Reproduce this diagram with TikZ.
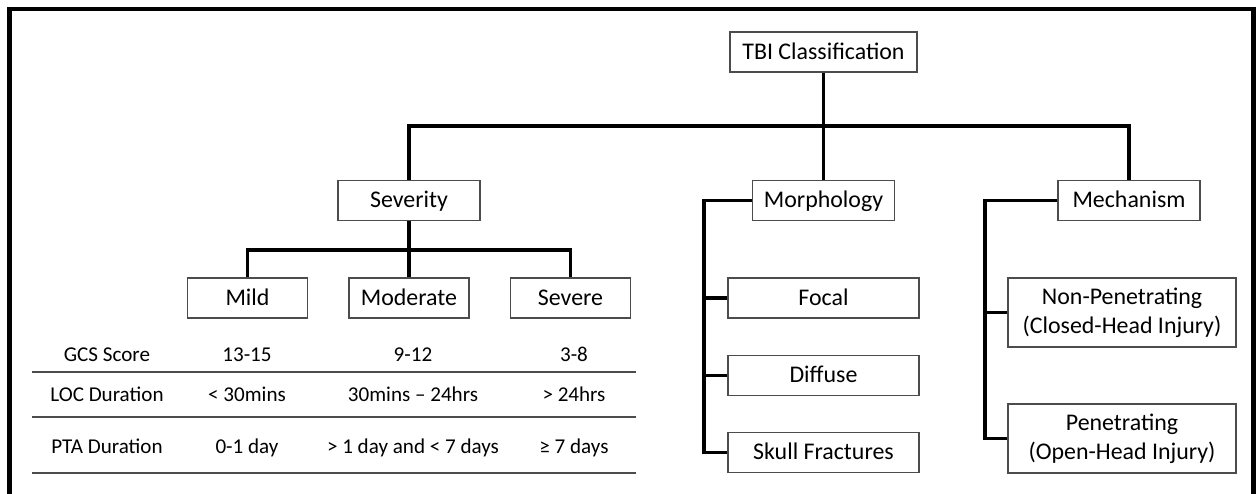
\documentclass[tikz,border=0pt]{standalone}
\usepackage{fontspec}
\setmainfont{Carlito}
\usepackage{tikz}
\usetikzlibrary{positioning,calc}

\begin{document}
\begin{tikzpicture}[
    font=\fontsize{13.6}{16.5}\selectfont,
    tbox/.style={rectangle, draw=black!70, line width=0.6pt, fill=white, minimum height=0.8cm, inner sep=0pt, align=center, text height=0.8em, text depth=0pt},
    wbox/.style={tbox, minimum width=3.82cm},
    mbox/.style={tbox, minimum width=2.84cm},
    sbox/.style={tbox, minimum width=2.4cm},
    ibox/.style={rectangle, draw=black!70, line width=0.6pt, fill=white, inner sep=0pt, align=center, minimum width=4.56cm, minimum height=1.38cm},
    link/.style={line width=2pt, black},
    cell/.style={font=\fontsize{12}{14}\selectfont, inner sep=0pt, text height=7.7pt, text depth=0pt, black},
    rule/.style={line width=1pt, black!70},
    frame/.style={line width=2.4pt, black}
]
\useasboundingbox (0,0) rectangle (25.16,-9.88);

% outer frame (bottom edge runs off the page)
\draw[frame] (0.19,-10.3) -- (0.19,-0.18) -- (25.07,-0.18) -- (25.07,-10.3);

% Top level
\node[tbox, minimum width=3.74cm] (tbi) at (16.47,-1.04) {TBI Classification};

% Second level
\node[mbox] (sev) at (8.18,-4.01) {Severity};
\node[mbox] (morph) at (16.47,-4.01) {Morphology};
\node[mbox] (mech) at (22.58,-4.01) {Mechanism};

% Severity grades
\node[sbox] (mild) at (4.95,-5.96) {Mild};
\node[sbox] (moderate) at (8.18,-5.96) {Moderate};
\node[sbox] (severe) at (11.41,-5.96) {Severe};

% Morphology types
\node[wbox] (focal) at (16.47,-5.96) {Focal};
\node[wbox] (diffuse) at (16.47,-7.51) {Diffuse};
\node[wbox] (skull) at (16.47,-9.05) {Skull Fractures};

% Mechanism types
\node[ibox] (nonpen) at (22.44,-6.25) {Non-Penetrating\\(Closed-Head Injury)};
\node[ibox] (pen) at (22.44,-8.77) {Penetrating\\(Open-Head Injury)};

% Bus points
\coordinate (tbus) at (16.47,-2.52);
\coordinate (sbus) at (8.18,-5.0);
\coordinate (mbus) at (14.08,-4.01);
\coordinate (kbus) at (19.70,-4.01);

% Connections: top level
\draw[link] (tbi.south) -- (morph.north);
\draw[link] (sev.north) -- (sev.north |- tbus) -- (mech.north |- tbus) -- (mech.north);

% Connections: severity
\draw[link] (sev.south) -- (moderate.north);
\draw[link] (mild.north) -- (mild.north |- sbus) -- (severe.north |- sbus) -- (severe.north);

% Connections: morphology
\draw[link] (morph.west) -- (mbus) |- (skull.west);
\draw[link] (focal.west) -- (focal.west -| mbus);
\draw[link] (diffuse.west) -- (diffuse.west -| mbus);

% Connections: mechanism
\draw[link] (mech.west) -- (kbus) |- (pen.west);
\draw[link] (nonpen.west) -- (nonpen.west -| kbus);

% Severity criteria table
\node[cell] (gcs) at (2.14,-7.10) {GCS Score};
\node[cell] (loc) at (2.14,-7.90) {LOC Duration};
\node[cell] (pta) at (2.14,-8.94) {PTA Duration};

\node[cell] (gcsmild) at (4.94,-7.10) {13-15};
\node[cell] (locmild) at (4.94,-7.90) {< 30mins};
\node[cell] (ptamild) at (4.94,-8.94) {0-1 day};

\node[cell] (gcsmod) at (8.26,-7.10) {9-12};
\node[cell] (locmod) at (8.26,-7.90) {30mins – 24hrs};
\node[cell] (ptamod) at (8.26,-8.94) {> 1 day and < 7 days};

\node[cell] (gcssev) at (11.48,-7.10) {3-8};
\node[cell] (locsev) at (11.48,-7.90) {> 24hrs};
\node[cell] (ptasev) at (11.48,-8.94) {≥ 7 days};

\draw[rule] (0.64,-7.44) -- (12.72,-7.44);
\draw[rule] (0.64,-8.34) -- (12.72,-8.34);
\draw[rule] (0.64,-9.46) -- (12.72,-9.46);

\end{tikzpicture}
\end{document}
